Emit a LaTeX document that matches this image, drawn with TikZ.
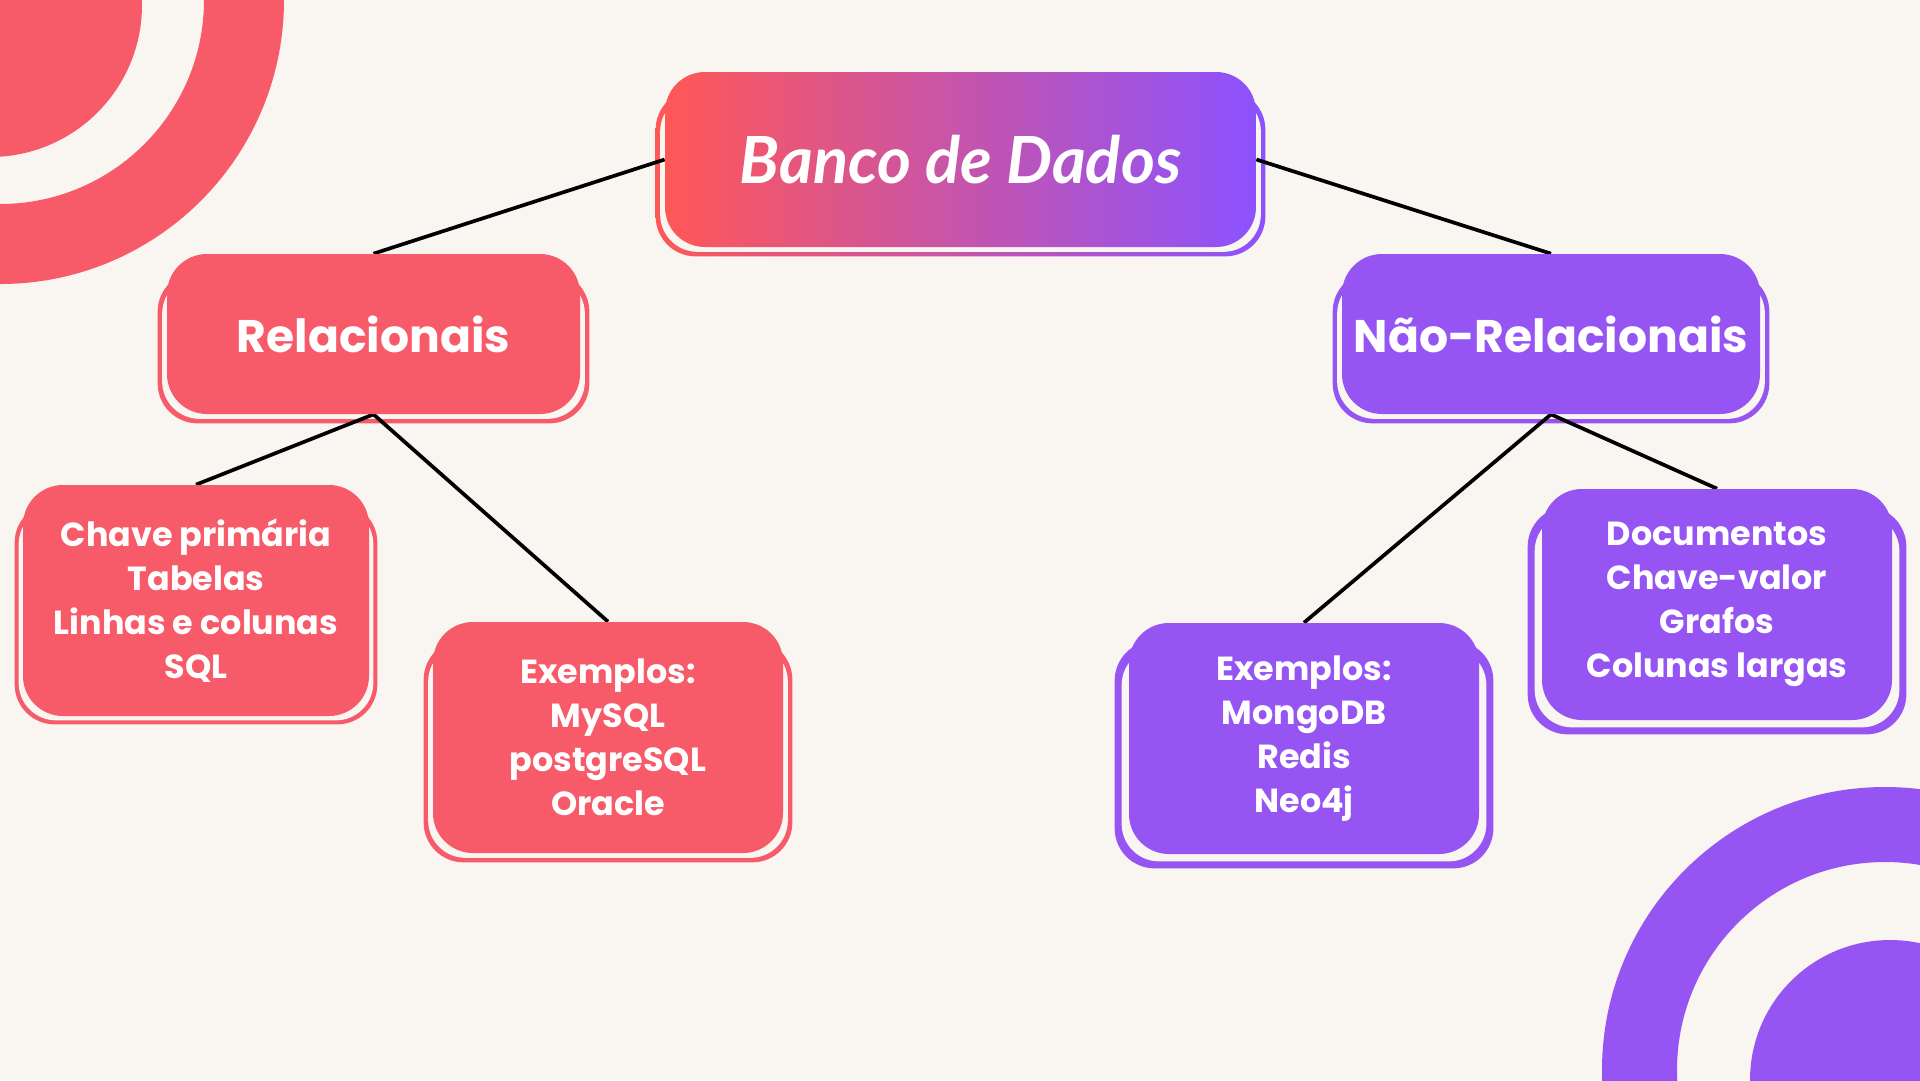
\documentclass[tikz,border=0pt]{standalone}
\usepackage{fontspec}
\setsansfont{Poppins}
\newfontfamily\titulo{Lato}
\usepackage{tikz}
\usetikzlibrary{backgrounds}

\definecolor{fundo}{HTML}{F9F5F0}
\definecolor{rosa}{HTML}{F75A68}
\definecolor{roxo}{HTML}{9655F2}
\definecolor{gradA}{HTML}{FF5757}
\definecolor{gradB}{HTML}{8C52FF}

% contorno deslocado atras de cada caixa: no, cor, afastamento
\newcommand{\moldura}[3]{%
    \path[#2, rounded corners=0.8cm] ([shift={(-#3,18)}]#1.north west) rectangle ([shift={(#3,#3)}]#1.south east);
    \fill[fundo, rounded corners=0.75cm] ([shift={(-#3/2,18+#3/2)}]#1.north west) rectangle ([shift={(#3/2,#3/2)}]#1.south east);
}

\begin{document}
\begin{tikzpicture}[x=0.02cm, y=-0.02cm,
        caixa/.style 2 args={rounded corners=0.8cm, inner sep=0pt, align=center, text=white,
            minimum width=#1*0.02cm, minimum height=#2*0.02cm},
        tema/.style={font=\sffamily\bfseries\fontsize{26}{30}\selectfont},
        lista/.style={font=\sffamily\bfseries\fontsize{19}{25}\selectfont},
        linha/.style={line width=2.1pt, black}]
        \useasboundingbox (0,0) rectangle (1920,1080);

        % Raiz
        \node[caixa={591}{175}, left color=gradA, right color=gradB,
            font=\titulo\bfseries\itshape\fontsize{37}{44}\selectfont] (raiz) at (960.5,159.5) {Banco de Dados};

        % Primeiro nivel
        \node[caixa={413}{160}, fill=rosa, tema] (rel) at (373.5,334) {Relacionais};
        \node[caixa={418}{160}, fill=roxo, tema] (naorel) at (1551,334) {Não-Relacionais};

        % Segundo nivel
        \node[caixa={346}{231}, fill=rosa, lista] (chave) at (196,600.5) {Chave primária\\Tabelas\\Linhas e colunas\\SQL};
        \node[caixa={350}{231}, fill=rosa, lista] (exrel) at (608,737.5) {Exemplos:\\MySQL\\postgreSQL\\Oracle};
        \node[caixa={350}{231}, fill=roxo, lista] (exnao) at (1304,738.5) {Exemplos:\\MongoDB\\Redis\\Neo4j};
        \node[caixa={350}{231}, fill=roxo, lista] (docs) at (1717,604.5) {Documentos\\Chave-valor\\Grafos\\Colunas largas};

        \begin{scope}[on background layer]
            \clip (0,0) rectangle (1920,1080);
            \fill[fundo] (0,0) rectangle (1920,1080);
            % circulos dos cantos
            \fill[rosa] (-10,5) circle (152);
            \fill[rosa, even odd rule] (0,0) circle (284) (0,0) circle (204);
            \fill[roxo, even odd rule] (1885,1070) circle (283) (1885,1070) circle (208);
            \fill[roxo] (1890,1080) circle (140);

            % contornos
            \moldura{raiz}{left color=gradA, right color=gradB}{9}
            \moldura{rel}{fill=rosa}{9}
            \moldura{naorel}{fill=roxo}{9}
            \moldura{chave}{fill=rosa}{8}
            \moldura{exrel}{fill=rosa}{9}
            \moldura{exnao}{fill=roxo}{14}
            \moldura{docs}{fill=roxo}{14}

            % ligacoes
            \draw[linha] (raiz.west) -- (rel.north);
            \draw[linha] (raiz.east) -- (naorel.north);
            \draw[linha] (rel.south) -- (chave.north);
            \draw[linha] (rel.south) -- (exrel.north);
            \draw[linha] (naorel.south) -- (exnao.north);
            \draw[linha] (naorel.south) -- (docs.north);
        \end{scope}
    \end{tikzpicture}
\end{document}
